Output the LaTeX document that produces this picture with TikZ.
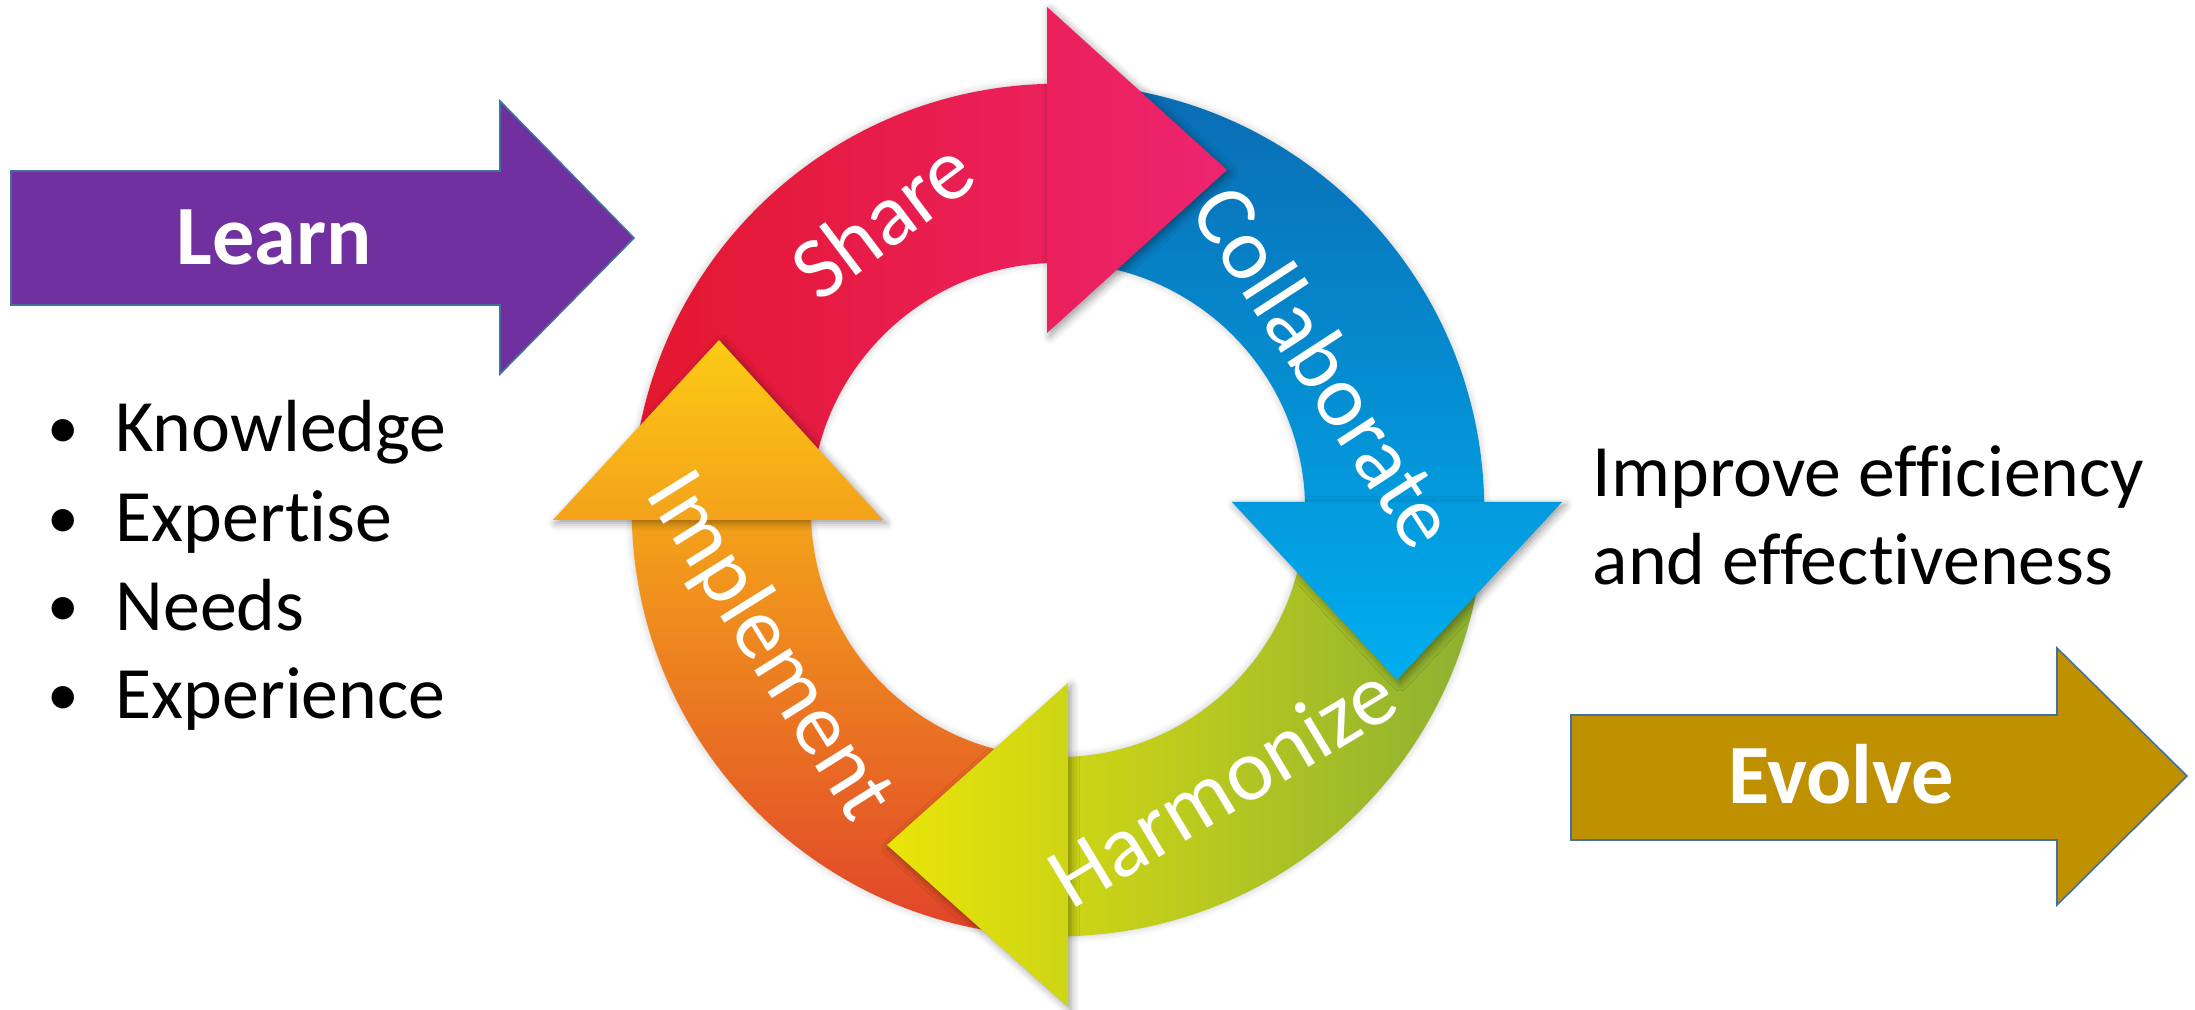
\documentclass[tikz,border=0pt]{standalone}
\usepackage{fontspec}
\setmainfont{Carlito}[Ligatures=CommonOff]
\usetikzlibrary{shadows.blur}
\definecolor{learnfill}{HTML}{7030A0}
\definecolor{evolvefill}{HTML}{BF9000}
\definecolor{boxline}{HTML}{41719C}
\definecolor{shareA}{HTML}{E3172E}
\definecolor{shareB}{HTML}{EE2470}
\definecolor{collabA}{HTML}{0A6CB3}
\definecolor{collabB}{HTML}{00AEEF}
\definecolor{harmA}{HTML}{EAE508}
\definecolor{harmB}{HTML}{8CB033}
\definecolor{implA}{HTML}{E0432A}
\definecolor{implB}{HTML}{FCCB14}
\begin{document}
\begin{tikzpicture}[x=0.01cm,y=0.01cm,
  bigarrow/.style={draw=boxline, line width=0.45pt},
  plaintext/.style={font=\fontsize{21}{25}\selectfont, inner sep=0pt},
  bulletdot/.style={font=\fontsize{18}{22}\selectfont, inner sep=0pt},
  ringlabel/.style={text=white, font=\fontsize{25}{30}\selectfont, inner sep=0pt},
  arrowlabel/.style={text=white, font=\fontsize{24}{29}\selectfont\bfseries, inner sep=0pt},
  headshadow/.style={blur shadow={shadow xshift=0.03cm, shadow yshift=-0.03cm,
      shadow blur radius=0.08cm, shadow opacity=40}},
  ringshadow/.style={blur shadow={shadow xshift=0cm, shadow yshift=0cm,
      shadow blur radius=0.07cm, shadow opacity=22}}
]
\useasboundingbox (0,0) rectangle (2195,1009);
\coordinate (C) at (1058,499);

% side arrows
\draw[bigarrow, fill=learnfill] (11,704) -- (500,704) -- (500,635) -- (634,771)
  -- (500,908) -- (500,838) -- (11,838) -- cycle;
\draw[bigarrow, fill=evolvefill] (1571,169) -- (2057,169) -- (2057,104) -- (2187,233)
  -- (2057,361) -- (2057,294) -- (1571,294) -- cycle;
\node[arrowlabel, anchor=base] (learn) at (274,744) {Learn};
\node[arrowlabel, anchor=base] (evolve) at (1841,206) {Evolve};

% bullet list
\foreach \t/\y/\n in {Knowledge/557/1, Expertise/467/2, Needs/379/3, Experience/291/4} {
  \node[bulletdot, anchor=base] (dot\n) at (63,\y+3) {•};
  \node[plaintext, anchor=base west] (item\n) at (115,\y) {\t};
}

% outcome text
\node[plaintext, anchor=base west] (goal1) at (1592,512) {Improve efficiency};
\node[plaintext, anchor=base west] (goal2) at (1592,424) {and effectiveness};

% soft halo under the ring
\path[ringshadow] (C) ++(0:4.26cm) arc[start angle=0, end angle=360, radius=4.26cm]
  -- ++(-1.79cm,0) arc[start angle=360, end angle=0, radius=2.47cm] -- cycle;

% ring bodies (quarter annuli)
\begin{scope}
  \clip (C) ++(180:4.26cm) arc[start angle=180, end angle=90, radius=4.26cm]
    -- ++(0,-1.79cm) arc[start angle=90, end angle=180, radius=2.47cm] -- cycle;
  \shade[left color=shareA, right color=shareB] (632,499) rectangle (1227,1002);
\end{scope}
\begin{scope}
  \clip (C) ++(90:4.26cm) arc[start angle=90, end angle=0, radius=4.26cm]
    -- ++(-1.79cm,0) arc[start angle=0, end angle=90, radius=2.47cm] -- cycle;
  \shade[top color=collabA, bottom color=collabB] (1058,329) rectangle (1562,925);
\end{scope}
\begin{scope}
  \clip (C) ++(0:4.26cm) arc[start angle=0, end angle=-90, radius=4.26cm]
    -- ++(0,1.79cm) arc[start angle=-90, end angle=0, radius=2.47cm] -- cycle;
  \shade[left color=harmA, right color=harmB] (887,2) rectangle (1484,499);
\end{scope}
\begin{scope}
  \clip (C) ++(-90:4.26cm) arc[start angle=-90, end angle=-180, radius=4.26cm]
    -- ++(1.79cm,0) arc[start angle=180, end angle=270, radius=2.47cm] -- cycle;
  \shade[bottom color=implA, top color=implB] (553,73) rectangle (1058,669);
\end{scope}

% arrow heads, each lying over the start of the next body
\path[headshadow] (1047,1002) -- (1227,839) -- (1047,676) -- cycle;
\begin{scope}
  \clip (1047,1002) -- (1227,839) -- (1047,676) -- cycle;
  \shade[left color=shareA, right color=shareB] (632,499) rectangle (1227,1002);
\end{scope}
\path[headshadow] (1232,507) -- (1397,329) -- (1562,507) -- cycle;
\begin{scope}
  \clip (1232,507) -- (1397,329) -- (1562,507) -- cycle;
  \shade[top color=collabA, bottom color=collabB] (1058,329) rectangle (1562,925);
\end{scope}
\path[headshadow] (1068,326) -- (887,164) -- (1068,2) -- cycle;
\begin{scope}
  \clip (1068,326) -- (887,164) -- (1068,2) -- cycle;
  \shade[left color=harmA, right color=harmB] (887,2) rectangle (1484,499);
\end{scope}
\path[headshadow] (553,489) -- (719,669) -- (883,489) -- cycle;
\begin{scope}
  \clip (553,489) -- (719,669) -- (883,489) -- cycle;
  \shade[bottom color=implA, top color=implB] (553,73) rectangle (1058,669);
\end{scope}

% ring labels
\node[ringlabel, rotate=37] (share) at (882,790) {Share};
\node[ringlabel, rotate=-57] (collab) at (1326,643) {Collaborate};
\node[ringlabel, rotate=31] (harm) at (1222,224) {Harmonize};
\node[ringlabel, rotate=-58] (impl) at (768,362) {Implement};
\end{tikzpicture}
\end{document}
